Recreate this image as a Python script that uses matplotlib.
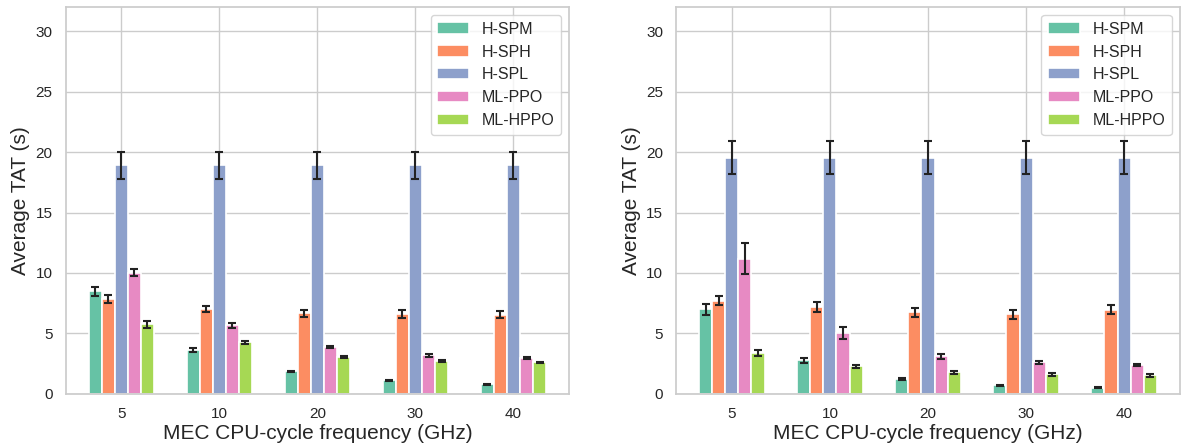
import numpy as np
import matplotlib.pyplot as plt
import seaborn as sns

freqs = ['5', '10', '20', '30', '40']
methods = ['H-SPM', 'H-SPH', 'H-SPL', 'ML-PPO', 'ML-HPPO']

# left panel
left_mean = {
    'H-SPM': [8.5, 3.6, 1.85, 1.13, 0.8],
    'H-SPH': [7.82, 7.02, 6.66, 6.6, 6.55],
    'H-SPL': [18.9, 18.9, 18.9, 18.9, 18.9],
    'ML-PPO': [10.03, 5.66, 3.9, 3.18, 2.98],
    'ML-HPPO': [5.75, 4.25, 3.04, 2.73, 2.6],
}
left_err = {
    'H-SPM': [0.37, 0.15, 0.07, 0.05, 0.04],
    'H-SPH': [0.33, 0.28, 0.3, 0.3, 0.3],
    'H-SPL': [1.1, 1.1, 1.1, 1.1, 1.1],
    'ML-PPO': [0.28, 0.2, 0.08, 0.1, 0.08],
    'ML-HPPO': [0.3, 0.15, 0.08, 0.07, 0.07],
}

# right panel
right_mean = {
    'H-SPM': [6.99, 2.76, 1.19, 0.72, 0.52],
    'H-SPH': [7.7, 7.18, 6.74, 6.57, 6.96],
    'H-SPL': [19.55, 19.55, 19.55, 19.55, 19.55],
    'ML-PPO': [11.16, 5.0, 3.12, 2.6, 2.38],
    'ML-HPPO': [3.4, 2.27, 1.77, 1.63, 1.52],
}
right_err = {
    'H-SPM': [0.46, 0.2, 0.08, 0.05, 0.05],
    'H-SPH': [0.39, 0.39, 0.37, 0.35, 0.37],
    'H-SPL': [1.35, 1.35, 1.35, 1.35, 1.35],
    'ML-PPO': [1.28, 0.5, 0.2, 0.15, 0.1],
    'ML-HPPO': [0.25, 0.12, 0.12, 0.12, 0.12],
}

sns.set_theme(style='whitegrid')
plt.rcParams['font.family'] = ['Liberation Sans', 'DejaVu Sans']
colors = sns.color_palette('Set2', 5)

fig, axes = plt.subplots(1, 2, figsize=(11.94, 4.47), dpi=100)
plt.subplots_adjust(left=0.055, right=0.988, top=0.984, bottom=0.119, wspace=0.213)

x = np.arange(len(freqs))
step = 0.8 / 6

for ax, mean, err in [(axes[0], left_mean, left_err), (axes[1], right_mean, right_err)]:
    for i, m in enumerate(methods):
        ax.bar(x + (i - 2) * step, mean[m], width=step, color=colors[i],
               edgecolor='white', linewidth=1.2, label=m,
               yerr=err[m], capsize=3,
               error_kw=dict(ecolor='#222222', elinewidth=1.5, capthick=1.5))
    ax.set_xticks(x)
    ax.set_xticklabels(freqs)
    ax.set_ylim(0, 32)
    ax.set_yticks([0, 5, 10, 15, 20, 25, 30])
    ax.tick_params(labelsize=11)
    ax.set_xlabel('MEC CPU-cycle frequency (GHz)', fontsize=15, labelpad=2)
    ax.set_ylabel('Average TAT (s)', fontsize=15)
    ax.legend(loc='upper right', fontsize=11.5)

fig.savefig('out.png', dpi=100)
